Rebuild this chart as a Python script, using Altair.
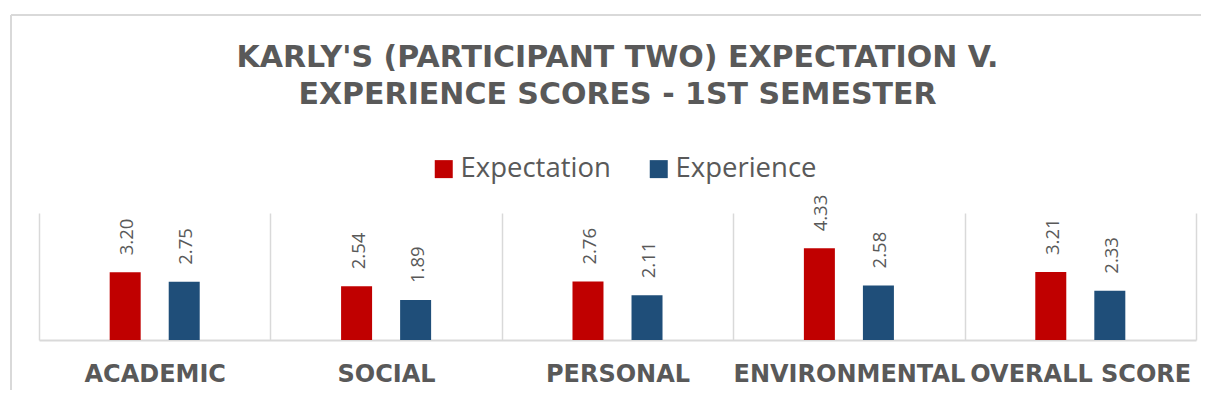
import altair as alt
import pandas as pd

categories = ["ACADEMIC", "SOCIAL", "PERSONAL", "ENVIRONMENTAL", "OVERALL SCORE"]
series = ["Expectation", "Experience"]
expectation = [3.20, 2.54, 2.76, 4.33, 3.21]
experience = [2.75, 1.89, 2.11, 2.58, 2.33]
colors = ["#C00000", "#1F4E79"]
title_lines = ["KARLY'S (PARTICIPANT TWO) EXPECTATION V.", "EXPERIENCE SCORES - 1ST SEMESTER"]

rows = []
for c, a, b in zip(categories, expectation, experience):
    rows.append({"category": c, "series": series[0], "value": a})
    rows.append({"category": c, "series": series[1], "value": b})
df = pd.DataFrame(rows)

GRAY = "#595959"
LIGHT = "#d9d9d9"

x = alt.X("category:N", sort=categories, title=None,
          scale=alt.Scale(paddingInner=0, paddingOuter=0),
          axis=alt.Axis(labelAngle=0, labelFont="DejaVu Sans", labelFontWeight="bold",
                        labelFontSize=24, labelColor=GRAY, labelPadding=22,
                        labelLimit=400,
                        ticks=False, tickBand="extent", grid=True, gridColor=LIGHT,
                        gridWidth=1.5, domainColor=LIGHT, domainWidth=2))
xo = alt.XOffset("series:N", sort=series,
                 scale=alt.Scale(paddingInner=0, paddingOuter=0.96))
y = alt.Y("value:Q", scale=alt.Scale(domain=[0, 6]), axis=None)

base = alt.Chart(df)

bars = base.mark_bar(width=31).encode(
    x=x, xOffset=xo, y=y,
    color=alt.Color("series:N", sort=series,
                    scale=alt.Scale(domain=series, range=colors),
                    legend=alt.Legend(title=None, orient="none", direction="horizontal",
                                      legendX=391, legendY=-58,
                                      symbolType="square", symbolSize=324,
                                      symbolStrokeWidth=0,
                                      labelFont="Open Sans", labelFontSize=27.5,
                                      labelColor=GRAY, labelOffset=3,
                                      columnPadding=34, labelLimit=300)),
)

labels = base.mark_text(angle=270, align="left", baseline="middle", dx=17, dy=2,
                        font="Open Sans", fontSize=18.5, color=GRAY).encode(
    x=x, xOffset=xo, y=y,
    text=alt.Text("value:Q", format=".2f"),
)

frame_v = base.mark_rule(color=LIGHT, strokeWidth=1.5).encode(
    x=alt.value(-28), y=alt.value(-198), y2=alt.value(200))
frame_h = base.mark_rule(color=LIGHT, strokeWidth=1.5).encode(
    x=alt.value(-28), x2=alt.value(1180), y=alt.value(-198))

chart = alt.layer(frame_v, frame_h, bars, labels).properties(
    width=1157, height=127,
    autosize=alt.AutoSizeParams(type="none"),
    padding={"left": 31, "top": 205, "right": 5, "bottom": 50},
    title=alt.TitleParams(text=title_lines, anchor="middle", frame="group",
                          font="DejaVu Sans", fontSize=30, fontWeight="bold",
                          color=GRAY, lineHeight=37, offset=-96),
).configure_view(stroke=None)

chart.save("out.html", embed_options={"renderer": "svg", "actions": False})
